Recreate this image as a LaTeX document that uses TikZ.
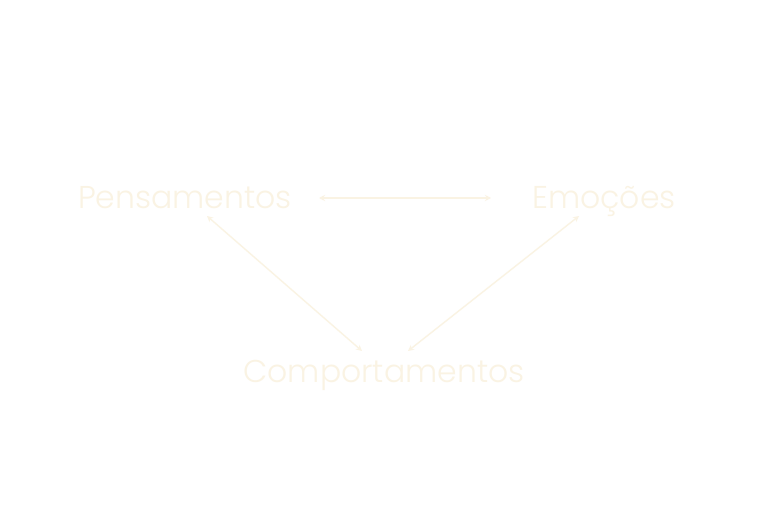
\documentclass[tikz,border=0pt]{standalone}
\usepackage{fontspec}
\setmainfont{Poppins Light}
\usetikzlibrary{arrows.meta}
\definecolor{creme}{HTML}{FAF3E3}
\begin{document}
\begin{tikzpicture}[x=1pt,y=1pt,
    lbl/.style={anchor=base,inner sep=0pt,text=creme,font=\fontsize{31.5}{34}\selectfont},
    seta/.style={draw=creme,line width=1.4pt,{Stealth[length=6pt,width=6pt]}-{Stealth[length=6pt,width=6pt]}}]
    \useasboundingbox[fill=white] (0,0) rectangle (768,512);
    \node[lbl] (pen) at (185,303) {Pensamentos};
    \node[lbl] (emo) at (604,303) {Emoções};
    \node[lbl] (comp) at (384,130) {Comportamentos};
    \draw[seta] ([shift={(134,11)}]pen.base) -- ([shift={(-113,11)}]emo.base);
    \draw[seta] ([shift={(22,-7)}]pen.base) -- ([shift={(-22,31)}]comp.base);
    \draw[seta] ([shift={(-25,-7)}]emo.base) -- ([shift={(24,31)}]comp.base);
\end{tikzpicture}
\end{document}
